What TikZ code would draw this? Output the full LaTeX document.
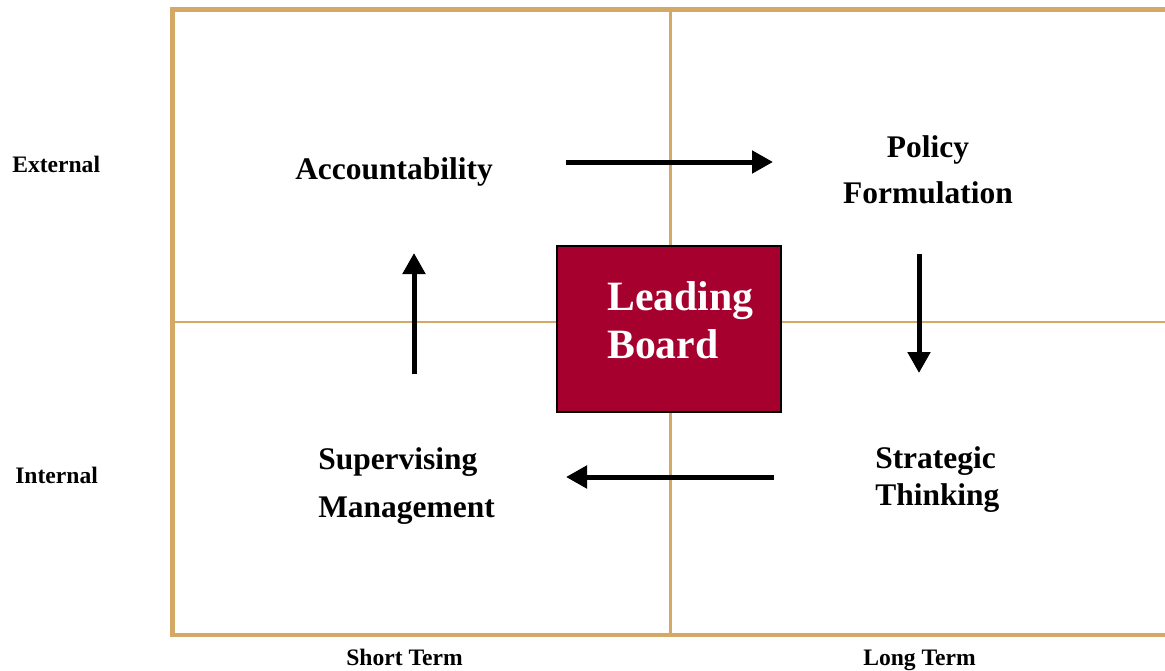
\documentclass[tikz,border=0pt]{standalone}
\usepackage{fontspec}
\setmainfont{Liberation Serif}
\usetikzlibrary{arrows.meta}
\definecolor{frameC}{RGB}{212,168,101}
\definecolor{boardC}{RGB}{165,0,46}
\begin{document}
\begin{tikzpicture}[x=0.75pt,y=-0.75pt,
  framel/.style={draw=frameC,line width=3.4pt},
  gridl/.style={draw=frameC,line width=1.9pt},
  lbl/.style={font=\fontsize{23.6}{36}\selectfont\bfseries,inner sep=0pt,anchor=base west,align=left},
  side/.style={font=\fontsize{17.7}{20}\selectfont\bfseries,inner sep=0pt,anchor=base west},
  boardbox/.style={draw=black,line width=0.8pt,fill=boardC,minimum width=168pt,minimum height=124.5pt,inner sep=0pt},
  boardtxt/.style={font=\fontsize{31.3}{36}\selectfont\bfseries,text=white,inner sep=0pt,anchor=base west,align=left},
  arr/.style={line width=3.75pt,-{Triangle[length=15.75pt,width=16.5pt]}}]
\useasboundingbox (0,0) rectangle (1165,671);
\clip (0,0) rectangle (1165,671);
% grid
\draw[gridl] (172.5,322) -- (1180,322);
\draw[gridl] (670.5,9.5) -- (670.5,635);
\draw[framel] (172.5,9.5) rectangle (1185,635);
% central box
\node[boardbox] (board) at (669,329) {};
\node[boardtxt] (boardlbl) at (607,358) {Leading\\Board};
% labels
\node[lbl] (acc) at (295,179) {Accountability};
\node[lbl,align=center,anchor=base,font=\fontsize{23.6}{34.5}\selectfont\bfseries] (pol) at (928,203) {Policy\\Formulation};
\node[lbl] (sup) at (318,517) {Supervising\\Management};
\node[lbl,font=\fontsize{23.6}{27.75}\selectfont\bfseries] (str) at (875,505) {Strategic\\Thinking};
% side labels
\node[side] (ext) at (12,172) {External};
\node[side] (int) at (15,483) {Internal};
\node[side] (st) at (346,665) {Short Term};
\node[side] (lt) at (863,665) {Long Term};
% arrows
\coordinate (a1s) at (566,162);
\coordinate (a1e) at (773,162);
\coordinate (a2s) at (919,254);
\coordinate (a2e) at (919,373);
\coordinate (a3s) at (774,477);
\coordinate (a3e) at (566,477);
\coordinate (a4s) at (414,374);
\coordinate (a4e) at (414,253);
\draw[arr] (a1s) -- (a1e);
\draw[arr] (a2s) -- (a2e);
\draw[arr] (a3s) -- (a3e);
\draw[arr] (a4s) -- (a4e);
\end{tikzpicture}
\end{document}
